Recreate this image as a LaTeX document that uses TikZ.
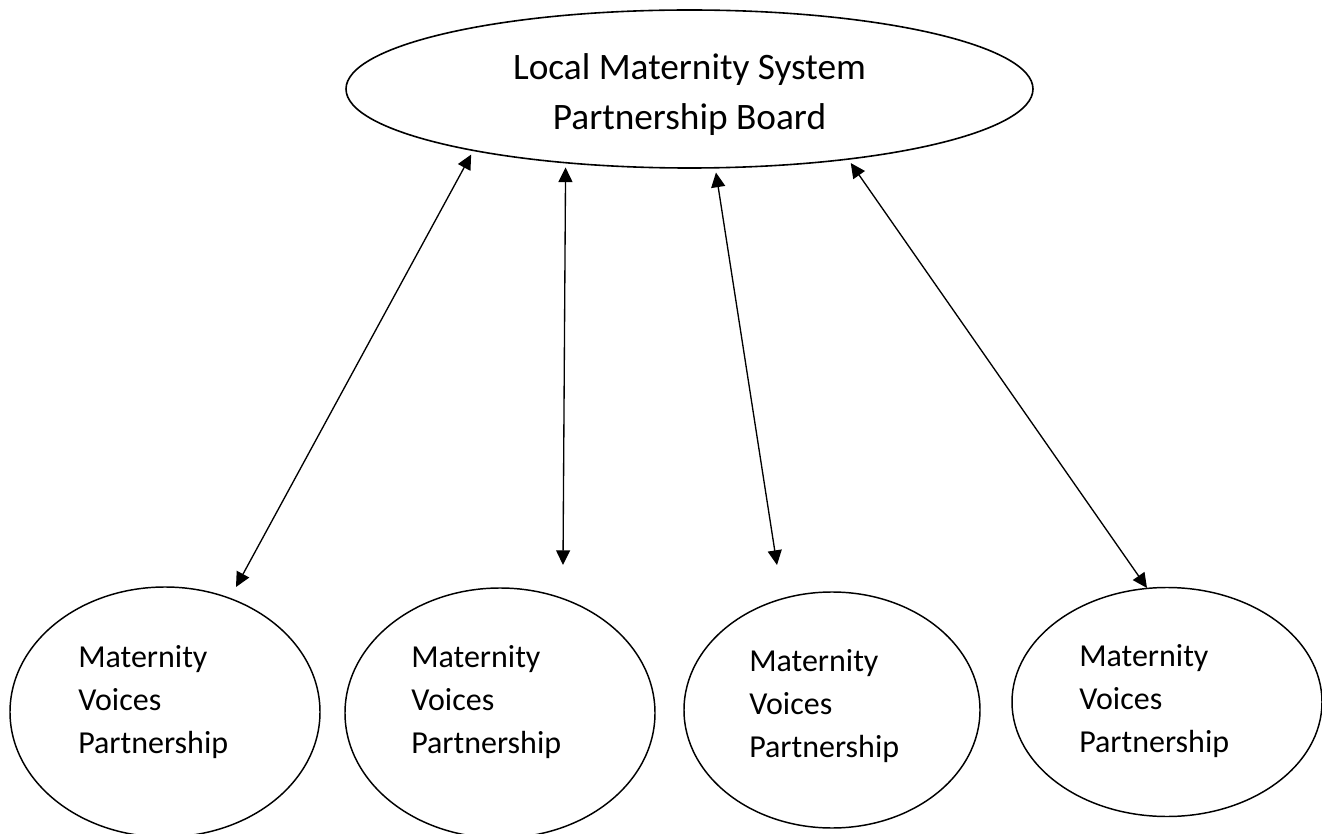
\documentclass[tikz,border=0pt]{standalone}
\usepackage{fontspec}
\setmainfont{Carlito}
\usetikzlibrary{shapes.geometric,arrows.meta}

\begin{document}
\begin{tikzpicture}[x=0.75pt,y=0.75pt,yscale=-1,xscale=1,
  board/.style={draw, ellipse, line width=1.2pt, inner sep=0pt, minimum width=515.25pt, minimum height=118.5pt},
  voice/.style={draw, ellipse, line width=1.1pt, inner sep=0pt},
  voicetext/.style={anchor=base west, align=left, inner sep=0pt, font=\fontsize{24}{32.25}\selectfont},
  link/.style={{Triangle[length=11pt,width=10.5pt]}-{Triangle[length=11pt,width=10.5pt]}, line width=1pt, shorten <=3pt}
]
\useasboundingbox (0,0) rectangle (1322,834);

\node [board] (lms) at (689.5,89) {};
\node [voice, minimum width=232.5pt, minimum height=187.5pt] (mvpA) at (165,712) {};
\node [voice, minimum width=232.5pt, minimum height=187.5pt] (mvpB) at (500,713) {};
\node [voice, minimum width=222pt, minimum height=177pt] (mvpC) at (832,710) {};
\node [voice, minimum width=232.5pt, minimum height=171.75pt] (mvpD) at (1167,702) {};

% text, anchored at the baseline of the last line
\node [anchor=base, align=center, inner sep=0pt, font=\fontsize{28}{37.5}\selectfont] (lmsText) at (689.5,130) {Local Maternity System\\Partnership Board};
\node [voicetext] (mvpAText) at (78,753) {Maternity\\Voices\\Partnership};
\node [voicetext] (mvpBText) at (411,753) {Maternity\\Voices\\Partnership};
\node [voicetext] (mvpCText) at (749,757) {Maternity\\Voices\\Partnership};
\node [voicetext] (mvpDText) at (1079,752) {Maternity\\Voices\\Partnership};

\coordinate (tipA) at (236,587);
\coordinate (tipB) at (563,565);
\coordinate (tipC) at (777,565);
\coordinate (tipD) at (1147,588);

\draw [link] (lms.196.9) -- (tipA);
\draw [link] (lms.211.8) -- (tipB);
\draw [link] (lms.288.6) -- (tipC);
\draw [link] (lms.336.8) -- (tipD);

\end{tikzpicture}
\end{document}
